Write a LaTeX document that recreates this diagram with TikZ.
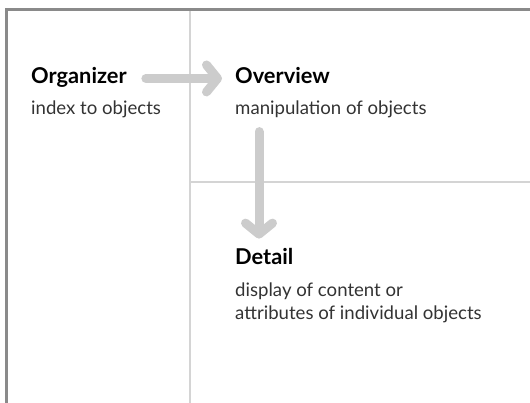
\documentclass[tikz,border=0pt]{standalone}
\usepackage{fontspec}
\setmainfont{Lato}
\usetikzlibrary{positioning,arrows.meta}
\definecolor{framegray}{HTML}{8A8A8A}
\definecolor{rulegray}{HTML}{D4D4D4}
\definecolor{flowgray}{HTML}{CCCCCC}
\definecolor{inkgray}{HTML}{333333}

\begin{document}
\begin{tikzpicture}[x=1pt, y=1pt, node distance=31pt, >={Straight Barb[length=11pt,width=27pt,round]}]
        \useasboundingbox (0,0) rectangle (530,403);
        % Frame and dividers
        \draw[framegray, line width=3pt] (6,0) -- (6,393.5) -- (530,393.5);
        \draw[rulegray, line width=2pt] (190,0) -- (190,392);
        \draw[rulegray, line width=2pt] (191,221) -- (530,221);

        % Nodes
        \node[anchor=base west, inner sep=0pt, font=\bfseries\fontsize{21.8}{25}\selectfont, text=black] (organizer) at (31,319) {Organizer};
        \node[below=of organizer.base west, anchor=base west, inner sep=0pt, font=\fontsize{18.6}{23}\selectfont, text=inkgray] (orgtext) {index to objects};
        \node[anchor=base west, inner sep=0pt, font=\bfseries\fontsize{21.8}{25}\selectfont, text=black] (overview) at (235,319) {Overview};
        \node[below=of overview.base west, anchor=base west, inner sep=0pt, font=\fontsize{18.6}{23}\selectfont, text=inkgray] (overtext) {manipulation of objects};
        \node[anchor=base west, inner sep=0pt, font=\bfseries\fontsize{21.8}{25}\selectfont, text=black] (detail) at (235,138) {Detail};
        \node[below=55pt of detail.base west, anchor=base west, inner sep=0pt, font=\fontsize{18.6}{23}\selectfont, text=inkgray, align=left] (detailtext) {display of content or\\attributes of individual objects};

        % Arrows
        \draw[->, flowgray, line width=9pt, line cap=round, shorten <=19pt, shorten >=13pt] ([yshift=3pt]organizer.mid east) -- ([yshift=3pt]overview.mid west);
        \draw[->, flowgray, line width=9pt, line cap=round, shorten <=13pt, shorten >=10pt] ([xshift=24pt]overtext.south west) -- ([xshift=24pt]detail.north west);
    \end{tikzpicture}
\end{document}
